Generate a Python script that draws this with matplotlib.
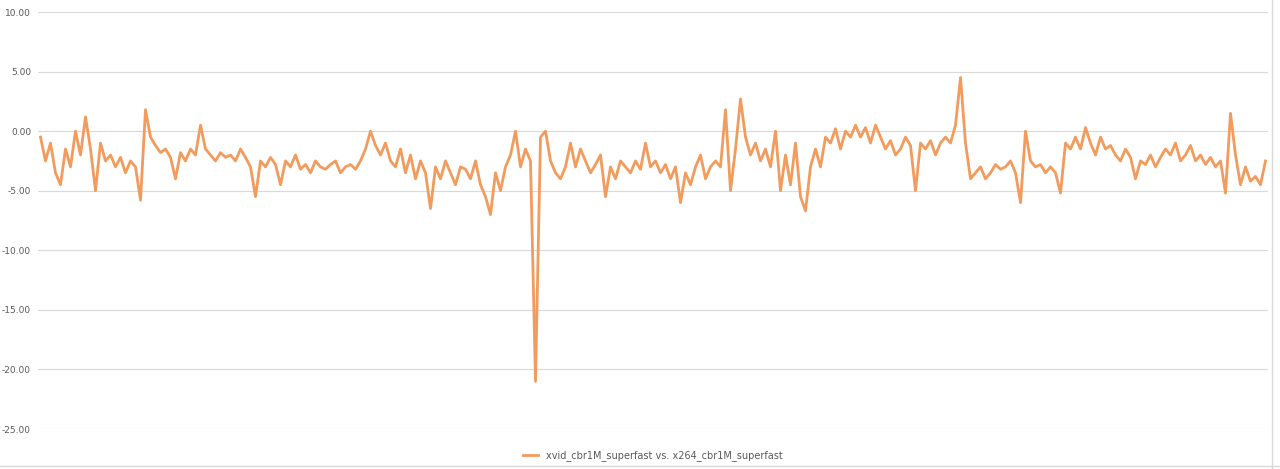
import matplotlib
matplotlib.use("Agg")
import matplotlib.pyplot as plt
import numpy as np

series_name = "xvid_cbr1M_superfast vs. x264_cbr1M_superfast"
values = [-0.5,-2.5,-1,-3.5,-4.5,-1.5,-3,0,-2,1.2,-1.5,-5,-1,
          -2.5,-2,-3,-2.2,-3.5,-2.5,-3,-5.8,
          1.8,-0.5,
          -1.2,-1.8,-1.5,-2.2,-4,-1.8,-2.5,-1.5,-2,0.5,-1.5,-2,-2.5,-1.8,-2.2,-2,-2.5,-1.5,-2.2,-3,
          -5.5,-2.5,-3,-2.2,-2.8,-4.5,-2.5,-3,-2,-3.2,-2.8,-3.5,-2.5,-3,-3.2,-2.8,-2.5,-3.5,-3,-2.8,-3.2,-2.5,
          -1.5,0,-1.2,-2,-1,-2.5,-3,-1.5,-3.5,-2,-4,-2.5,
          -3.5,-6.5,-3,-4,-2.5,-3.5,-4.5,-3,-3.2,-4,-2.5,-4.5,-5.5,-7,-3.5,-5,
          -3,-2,0,-3,-1.5,-2.5,
          -21,-0.5,
          0,-2.5,-3.5,-4,-3,-1,-3,-1.5,-2.5,-3.5,-2.8,-2,
          -5.5,-3,-4,-2.5,-3,-3.5,-2.5,-3.2,-1,-3,-2.5,-3.5,-2.8,-4,-3,-6,-3.5,-4.5,-3,-2,-4,-3,-2.5,-3,
          1.8,-5,-1.5,2.7,-0.5,-2,-1,-2.5,-1.5,-3,
          0,-5,-2,-4.5,-1,-5.5,-6.7,-3,-1.5,-3,
          -0.5,-1,0.2,-1.5,0,-0.5,0.5,-0.5,0.3,-1,0.5,-0.5,-1.5,-0.8,-2,-1.5,-0.5,-1.2,-5,-1,-1.5,-0.8,-2,-1,-0.5,-1,
          0.5,4.5,-1,-4,
          -3.5,-3,-4,-3.5,-2.8,-3.2,-3,-2.5,-3.5,-6,0,-2.5,-3,-2.8,-3.5,-3,
          -3.5,-5.2,-1,-1.5,-0.5,-1.5,0.3,
          -1,-2,-0.5,-1.5,-1.2,-2,-2.5,-1.5,-2.2,-4,-2.5,-2.8,-2,-3,-2.2,-1.5,-2,-1,-2.5,-2,-1.2,-2.5,-2,-2.8,-2.2,-3,-2.5,
          -5.2,1.5,-2,-4.5,-3,-4.2,-3.8,-4.5,-2.5]
yticks = [10, 5, 0, -5, -10, -15, -20, -25]

fig = plt.figure(figsize=(12.8, 4.69), dpi=100)
ax = fig.add_axes([38/1280, 1-429/469, 1230/1280, 417/469])
x = np.arange(len(values))
ax.plot(x, values, color="#F29B5C", lw=2.0, label=series_name)
ax.set_ylim(-25, 10)
ax.set_xlim(-0.5, len(values) - 0.5)
ax.set_yticks(yticks)
ax.set_yticklabels([f"{t:.2f}" for t in yticks], fontsize=6.5, color="#595959")
ax.set_xticks([])
ax.grid(axis="y", color="#D9D9D9", lw=0.8)
ax.set_axisbelow(True)
for s in ax.spines.values():
    s.set_visible(False)
ax.tick_params(axis="y", length=0, pad=5)
ax.legend(loc="upper center", bbox_to_anchor=(0.5, -0.03), frameon=False, fontsize=7,
          labelcolor="#595959", handlelength=1.5)
fig.add_artist(plt.Line2D([1272/1280, 1272/1280], [0, 1], color="#D9D9D9", lw=1))
fig.add_artist(plt.Line2D([0, 1], [3/469, 3/469], color="#D9D9D9", lw=1))
fig.savefig("out.png", dpi=100)
